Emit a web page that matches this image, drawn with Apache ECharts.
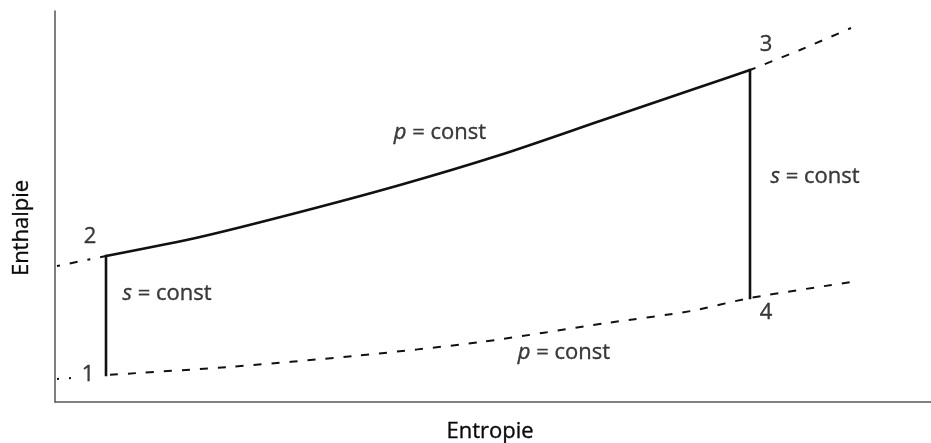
<!DOCTYPE html>
<html>
<head>
<meta charset="utf-8">
<script src="https://cdn.jsdelivr.net/npm/echarts@6/dist/echarts.min.js"></script>
<style>
html,body{margin:0;padding:0;background:#fff;}
#chart{width:931px;height:443px;}
</style>
</head>
<body>
<div id="chart"></div>
<script>
// Upper isobar (p = const), solid part between state 2 and state 3
var upperS = [0.51, 1.45, 2.45, 3.45, 4.45, 5.45, 6.45, 6.95];
var upperH = [1.46, 1.65, 1.90, 2.17, 2.47, 2.81, 3.15, 3.32];
// Upper isobar dashed extensions
var upperLeftS = [0.02, 0.51];
var upperLeftH = [1.36, 1.46];
var upperRightS = [6.95, 7.45, 7.96];
var upperRightH = [3.32, 3.52, 3.74];
// Lower isobar (p = const), dashed; left stub ends where label "1" begins
var lowerLeftS = [0.02, 0.17];
var lowerLeftH = [0.23, 0.24];
var lowerS = [0.51, 1.73, 2.99, 4.26, 5.52, 6.36, 6.95, 7.96];
var lowerH = [0.27, 0.35, 0.46, 0.60, 0.79, 0.91, 1.04, 1.20];
// Isentropes (s = const): 1->2 and 3->4
var isen12S = [0.51, 0.51];
var isen12H = [0.27, 1.46];
var isen34S = [6.95, 6.95];
var isen34H = [3.32, 1.04];
// State points
var stateLabels = ['1', '2', '3', '4'];
var stateS = [0.51, 0.51, 6.95, 6.95];
var stateH = [0.27, 1.46, 3.32, 1.04];
// Process annotations
var annoText = ['{i|p} = const', '{i|s} = const', '{i|s} = const', '{i|p} = const'];
var annoS = [3.85, 7.60, 1.12, 5.09];
var annoH = [2.69, 2.25, 1.08, 0.49];
var xTitle = 'Entropie';
var yTitle = 'Enthalpie';

function zip(a, b) { return a.map(function (v, i) { return [v, b[i]]; }); }

var FONT = 'Open Sans';
var TXT = '#0a0a0a';
var LINE = '#111';
var FS = 22;
var dash = [8, 10];
var TB = {textBorderColor: TXT, textBorderWidth: 0.35};

var labelOffsets = [[-18, 0], [-16, -19], [16, -25], [16, 15]];

var chart = echarts.init(document.getElementById('chart'), null, {renderer: 'canvas'});
chart.setOption({
  animation: false,
  backgroundColor: '#fff',
  grid: {left: 55, right: 0, top: 11, bottom: 41, containLabel: false, outerBoundsMode: 'none'},
  xAxis: {
    type: 'value', min: 0, max: 8.76,
    axisLine: {show: true, onZero: false, lineStyle: {color: '#555', width: 1.5}},
    axisTick: {show: false}, axisLabel: {show: false}, splitLine: {show: false},
    name: xTitle, nameLocation: 'middle', nameGap: 19,
    nameTextStyle: Object.assign({fontFamily: FONT, fontSize: FS, color: TXT, padding: [0, 6, 0, 0]}, TB)
  },
  yAxis: {
    type: 'value', min: 0, max: 3.91,
    axisLine: {show: true, onZero: false, lineStyle: {color: '#555', width: 1.5}},
    axisTick: {show: false}, axisLabel: {show: false}, splitLine: {show: false}
  },
  graphic: [{
    type: 'text', x: 22, y: 228, rotation: Math.PI / 2,
    style: {text: yTitle, font: FS + 'px "Open Sans"', fill: TXT, stroke: TXT, lineWidth: 0.35,
      align: 'center', verticalAlign: 'middle'}
  }],
  series: [
    {type: 'line', data: zip(upperS, upperH), smooth: 0.25, showSymbol: false,
      lineStyle: {color: LINE, width: 2.6}, z: 3},
    {type: 'line', data: zip(upperLeftS, upperLeftH), showSymbol: false,
      lineStyle: {color: LINE, width: 2, type: [3, 10, 8, 10]}},
    {type: 'line', data: zip(upperRightS, upperRightH), smooth: 0.25, showSymbol: false,
      lineStyle: {color: LINE, width: 2, type: dash, dashOffset: 2}},
    {type: 'line', data: zip(lowerLeftS, lowerLeftH), showSymbol: false,
      lineStyle: {color: LINE, width: 2, type: [2, 10]}},
    {type: 'line', data: zip(lowerS, lowerH), smooth: 0.25, showSymbol: false,
      lineStyle: {color: LINE, width: 2, type: dash, dashOffset: -4}},
    {type: 'line', data: zip(isen12S, isen12H), showSymbol: false,
      lineStyle: {color: LINE, width: 2.6, cap: 'square'}, z: 3},
    {type: 'line', data: zip(isen34S, isen34H), showSymbol: false,
      lineStyle: {color: LINE, width: 2.6, cap: 'square'}, z: 3},
    {type: 'scatter', symbolSize: 0, z: 5,
      data: stateLabels.map(function (t, i) {
        return {value: [stateS[i], stateH[i]], name: t,
          label: Object.assign({show: true, formatter: t, position: 'inside', offset: labelOffsets[i],
            fontFamily: FONT, fontSize: FS, color: TXT}, TB)};
      })},
    {type: 'scatter', symbolSize: 0, z: 5,
      data: annoText.map(function (t, i) {
        return {value: [annoS[i], annoH[i]],
          label: Object.assign({show: true, formatter: t, position: 'inside',
            fontFamily: FONT, fontSize: FS, color: TXT,
            rich: {i: Object.assign({fontFamily: FONT, fontSize: FS, color: TXT, fontStyle: 'italic'}, TB)}}, TB)};
      })}
  ]
});
</script>
</body>
</html>
